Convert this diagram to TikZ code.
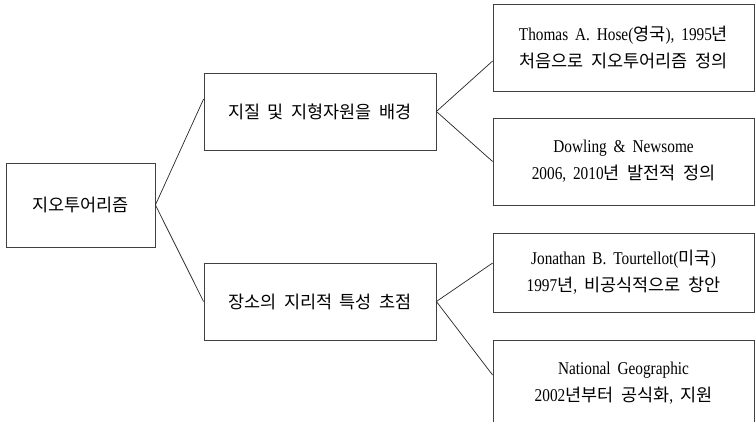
\documentclass[tikz,border=0pt]{standalone}
\usepackage{fontspec}
\setmainfont{Liberation Serif}[FakeStretch=0.85,WordSpace=1.8]
\newfontfamily\krfont{Noto Sans CJK KR}[WordSpace=1.9]
\newcommand{\kr}[1]{{\krfont\fontsize{17.5}{27}\selectfont #1}}
\usetikzlibrary{positioning}

\begin{document}
\begin{tikzpicture}[
  x=1pt, y=-1pt,
  font=\fontsize{18}{27}\selectfont,
  box/.style={rectangle, draw=black!75, line width=0.8pt, align=center,
              inner sep=0pt},
  rootbox/.style={box, minimum width=149pt, minimum height=84pt},
  midbox/.style={box, minimum width=232pt, minimum height=77pt},
  leafbox/.style={box, minimum width=261pt, minimum height=87pt},
  link/.style={draw=black!85, line width=0.7pt}
]
\clip (0,0) rectangle (755,421);

% root and the two branches
\node[rootbox] (geo)   at (80.5,205)  {\kr{지오투어리즘}};
\node[midbox]  (geol)  at (320,111.5) {\kr{지질 및 지형자원을 배경}};
\node[midbox]  (place) at (320,301.5) {\kr{장소의 지리적 특성 초점}};

% leaves, right column (last one runs off the page)
\node[leafbox] (hose) at (623.5,47.5)
  {Thomas A. Hose(\kr{영국}), 1995\kr{년}\\\kr{처음으로 지오투어리즘 정의}};
\node[leafbox] (dowl) at (623.5,161.5)
  {Dowling \& Newsome\\2006, 2010\kr{년 발전적 정의}};
\node[leafbox, minimum height=79pt] (tour) at (623.5,272.5)
  {Jonathan B. Tourtellot(\kr{미국})\\1997\kr{년}, \kr{비공식적으로 창안}};
\node[leafbox] (natg) at (623.5,383.5)
  {National Geographic\\2002\kr{년부터 공식화}, \kr{지원}};

\draw[link] (geo.east) -- ([yshift=12.5pt]geol.west);
\draw[link] (geo.east) -- (place.west);

\draw[link] (geol.east) -- ([yshift=-13.5pt]hose.west);
\draw[link] (geol.east) -- (dowl.west);
\draw[link] (place.east) -- ([yshift=9.5pt]tour.west);
\draw[link] (place.east) -- ([yshift=8.5pt]natg.west);

\end{tikzpicture}
\end{document}
